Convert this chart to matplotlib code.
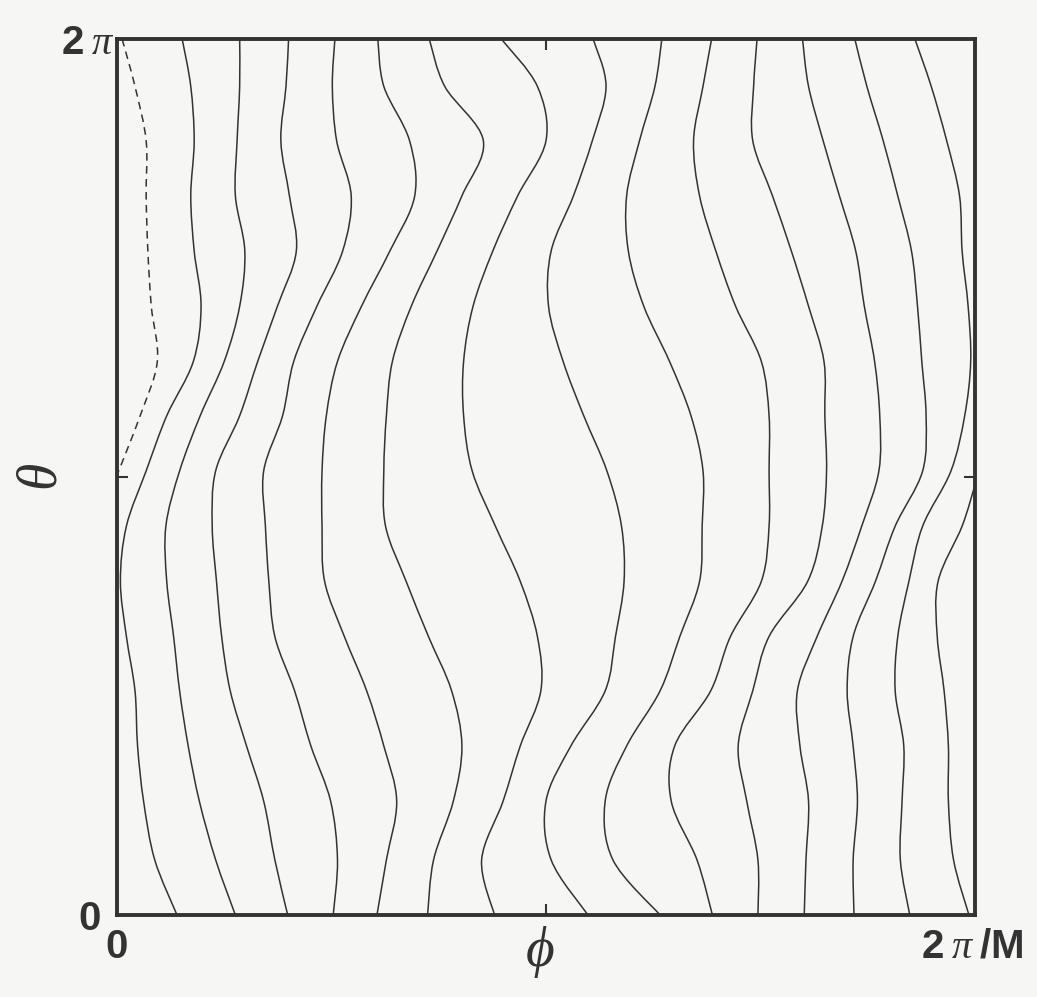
import matplotlib
matplotlib.use("Agg")
import matplotlib.pyplot as plt
import matplotlib.transforms as mtransforms
from matplotlib.path import Path
from matplotlib.patches import PathPatch

plt.rcParams['mathtext.fontset'] = 'custom'
plt.rcParams['mathtext.rm'] = 'Liberation Serif'
plt.rcParams['mathtext.it'] = 'Liberation Serif:italic'
plt.rcParams['mathtext.bf'] = 'Liberation Sans:bold'

# theta in units of 2*pi, phi in units of 2*pi/M
theta_levels = [1.0, 0.946, 0.884, 0.821, 0.758, 0.695, 0.632, 0.570, 0.507,
                0.444, 0.381, 0.318, 0.256, 0.193, 0.130, 0.063, 0.0]

phi_lines = [
    [0.076, 0.086, 0.090, 0.086, 0.090, 0.098, 0.089, 0.058, 0.034, 0.011, 0.004, 0.011, 0.021, 0.024, 0.031, 0.044, 0.070],
    [0.143, 0.143, 0.140, 0.138, 0.149, 0.143, 0.125, 0.097, 0.073, 0.057, 0.058, 0.066, 0.073, 0.083, 0.096, 0.115, 0.138],
    [0.200, 0.197, 0.191, 0.201, 0.209, 0.187, 0.164, 0.143, 0.115, 0.111, 0.116, 0.122, 0.132, 0.151, 0.171, 0.184, 0.199],
    [0.254, 0.251, 0.256, 0.273, 0.263, 0.233, 0.206, 0.193, 0.171, 0.173, 0.177, 0.184, 0.207, 0.226, 0.249, 0.257, 0.252],
    [0.304, 0.311, 0.341, 0.347, 0.318, 0.285, 0.257, 0.244, 0.239, 0.239, 0.242, 0.265, 0.291, 0.311, 0.326, 0.314, 0.303],
    [0.364, 0.382, 0.427, 0.402, 0.373, 0.343, 0.321, 0.314, 0.311, 0.313, 0.337, 0.363, 0.390, 0.402, 0.392, 0.369, 0.362],
    [0.448, 0.490, 0.500, 0.467, 0.438, 0.415, 0.404, 0.404, 0.414, 0.441, 0.470, 0.490, 0.494, 0.470, 0.450, 0.425, 0.440],
    [0.555, 0.570, 0.554, 0.532, 0.506, 0.503, 0.520, 0.544, 0.571, 0.588, 0.591, 0.581, 0.569, 0.529, 0.500, 0.506, 0.549],
    [0.635, 0.627, 0.609, 0.594, 0.596, 0.614, 0.644, 0.669, 0.683, 0.682, 0.679, 0.656, 0.633, 0.594, 0.569, 0.578, 0.633],
    [0.693, 0.683, 0.672, 0.679, 0.698, 0.721, 0.751, 0.760, 0.760, 0.760, 0.751, 0.715, 0.692, 0.650, 0.646, 0.676, 0.694],
    [0.746, 0.742, 0.741, 0.764, 0.786, 0.806, 0.824, 0.825, 0.827, 0.822, 0.805, 0.760, 0.741, 0.724, 0.734, 0.747, 0.747],
    [0.799, 0.806, 0.823, 0.842, 0.861, 0.871, 0.883, 0.889, 0.888, 0.868, 0.845, 0.816, 0.793, 0.796, 0.806, 0.803, 0.801],
    [0.860, 0.874, 0.893, 0.910, 0.926, 0.933, 0.938, 0.943, 0.939, 0.907, 0.884, 0.858, 0.851, 0.858, 0.863, 0.858, 0.859],
    [0.930, 0.949, 0.967, 0.982, 0.985, 0.992, 0.995, 0.988, 0.972, 0.939, 0.923, 0.910, 0.907, 0.917, 0.915, 0.913, 0.924],
]

# line entering from the right edge
edge_theta = [0.491, 0.444, 0.381, 0.318, 0.256, 0.193, 0.130, 0.063, 0.0]
edge_phi = [1.0, 0.985, 0.957, 0.956, 0.964, 0.969, 0.969, 0.975, 0.993]

# dashed separatrix near phi = 0
dashed_theta = [1.0, 0.946, 0.884, 0.821, 0.758, 0.695, 0.632, 0.570, 0.502]
dashed_phi = [0.006, 0.021, 0.034, 0.034, 0.036, 0.040, 0.047, 0.027, 0.0]

x_ticks = [0, 0.5, 1]
x_ticklabels = ['0', '', r'$\mathbf{2}\;\pi\;\mathbf{/M}$']
y_ticks = [0, 0.5, 1]
y_ticklabels = ['0', '', r'$\mathbf{2}\;\pi$']

bg = '#f6f6f4'
ink = '#333333'


def smooth_path(xs, ys):
    """Catmull-Rom curve through the given points, as cubic Bezier path."""
    pts = list(zip(xs, ys))
    n = len(pts)
    verts = [pts[0]]
    codes = [Path.MOVETO]
    for i in range(n - 1):
        p0 = pts[i - 1] if i > 0 else pts[i]
        p1 = pts[i]
        p2 = pts[i + 1]
        p3 = pts[i + 2] if i + 2 < n else pts[i + 1]
        c1 = (p1[0] + (p2[0] - p0[0]) / 6.0, p1[1] + (p2[1] - p0[1]) / 6.0)
        c2 = (p2[0] - (p3[0] - p1[0]) / 6.0, p2[1] - (p3[1] - p1[1]) / 6.0)
        verts += [c1, c2, p2]
        codes += [Path.CURVE4] * 3
    return Path(verts, codes)


fig = plt.figure(figsize=(10.37, 9.97), dpi=100, facecolor=bg)
ax = fig.add_axes([0.1128, 0.0822, 0.8274, 0.8786])
ax.set_facecolor(bg)

for phis in phi_lines:
    ax.add_patch(PathPatch(smooth_path(phis, theta_levels), fill=False,
                           edgecolor=ink, lw=1.1))
ax.add_patch(PathPatch(smooth_path(edge_phi, edge_theta), fill=False,
                       edgecolor=ink, lw=1.1))
ax.add_patch(PathPatch(smooth_path(dashed_phi, dashed_theta), fill=False,
                       edgecolor=ink, lw=1.1, linestyle=(0, (5, 3.5))))

ax.set_xlim(0, 1)
ax.set_ylim(0, 1)
ax.set_xticks(x_ticks)
ax.set_xticklabels(x_ticklabels)
ax.set_yticks(y_ticks)
ax.set_yticklabels(y_ticklabels)
for lab in ax.get_xticklabels() + ax.get_yticklabels():
    lab.set_fontfamily('Liberation Sans')
    lab.set_fontweight('bold')
    lab.set_fontsize(29)
    lab.set_color(ink)
ax.tick_params(direction='in', length=8, width=1.5, color=ink,
               top=True, right=True, pad=9)
ax.tick_params(axis='y', pad=12)

# the "2 pi" label on the theta axis sits closer to the frame
top_lab = ax.get_yticklabels()[2]
top_lab.set_transform(top_lab.get_transform() +
                      mtransforms.ScaledTranslation(10 / 72, 0, fig.dpi_scale_trans))
# the "2 pi / M" label is centred slightly left of the corner
right_lab = ax.get_xticklabels()[2]
right_lab.set_transform(right_lab.get_transform() +
                        mtransforms.ScaledTranslation(-2 / 72, 0, fig.dpi_scale_trans))

for sp in ax.spines.values():
    sp.set_linewidth(2.8)
    sp.set_color(ink)

ax.set_xlabel(r'$\phi$', fontsize=40, color=ink)
ax.xaxis.set_label_coords(0.493, -0.01)
ax.xaxis.label.set_va('top')
ax.set_ylabel(r'$\theta$', fontsize=40, color=ink)
ax.yaxis.set_label_coords(-0.057, 0.5)

fig.savefig('out.png', dpi=100, facecolor=bg)
